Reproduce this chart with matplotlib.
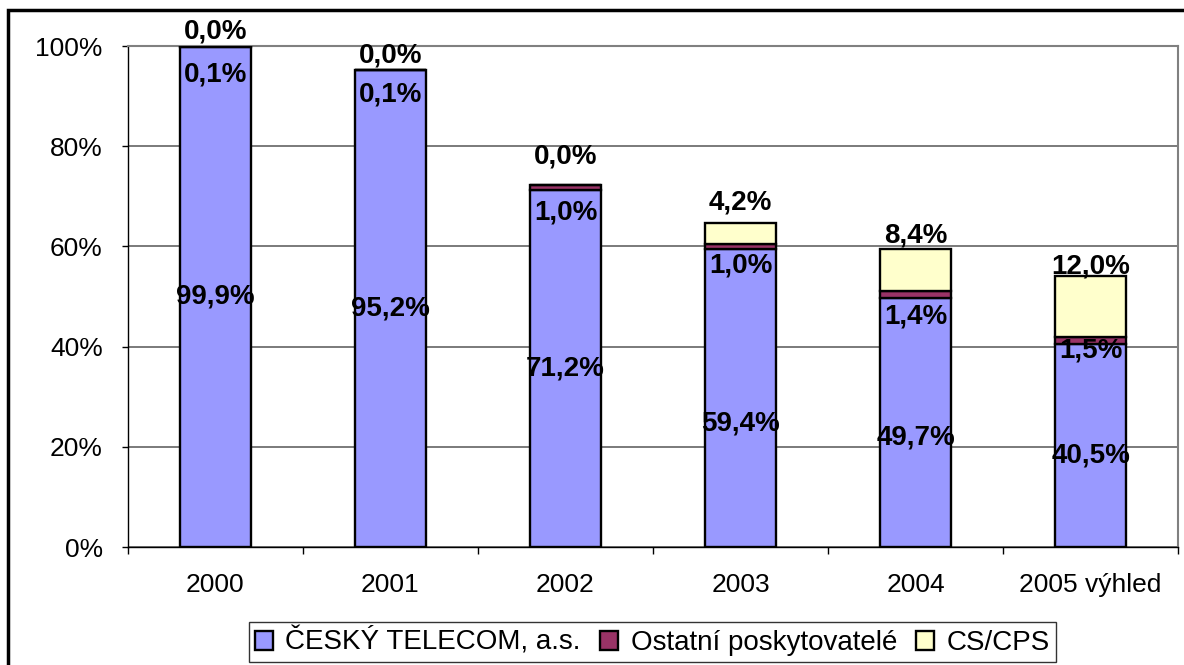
import numpy as np
import matplotlib.pyplot as plt
from matplotlib.patches import Rectangle
from matplotlib.ticker import FixedLocator, PercentFormatter

plt.rcParams['font.family'] = ['Liberation Sans', 'DejaVu Sans']

years = ['2000', '2001', '2002', '2003', '2004', '2005 výhled']
telecom = [99.9, 95.2, 71.2, 59.4, 49.7, 40.5]
ostatni = [0.1, 0.1, 1.0, 1.0, 1.4, 1.5]
cscps = [0.0, 0.0, 0.0, 4.2, 8.4, 12.0]

# label shifts (in % units) from segment centre, as Excel placed them
dy_tel = [0, 0, 0, -5, -3, -2]
dy_ost = [-5.7, -5, -5, -3.8, -4.3, -2.1]
dy_cs = [2.8, 2.9, 5.8, 6.2, 6.8, 7.9]

col_tel = '#9999FF'
col_ost = '#993366'
col_cs = '#FFFFCC'

fig = plt.figure(figsize=(11.84, 6.65), dpi=100)
ax = fig.add_axes([0.108, 0.1774, 0.887, 0.7534])

x = np.arange(len(years))
w = 0.41
tel = np.array(telecom)
ost = np.array(ostatni)
cs = np.array(cscps)

ax.bar(x, tel, w, color=col_tel, edgecolor='black', linewidth=1.7, label='ČESKÝ TELECOM, a.s.', zorder=3)
ax.bar(x, ost, w, bottom=tel, color=col_ost, edgecolor='black', linewidth=1.7, label='Ostatní poskytovatelé', zorder=3)
ax.bar(x, cs, w, bottom=tel + ost, color=col_cs, edgecolor='black', linewidth=1.7, label='CS/CPS', zorder=3)

def fmt(v):
    return ('%.1f%%' % v).replace('.', ',')

lbl = dict(ha='center', va='center', fontsize=20, fontweight='bold', zorder=5, clip_on=False)
for i in range(len(years)):
    ax.text(x[i], tel[i] / 2 + dy_tel[i], fmt(tel[i]), **lbl)
    ax.text(x[i], tel[i] + ost[i] / 2 + dy_ost[i], fmt(ost[i]), **lbl)
    ax.text(x[i], tel[i] + ost[i] + cs[i] / 2 + dy_cs[i], fmt(cs[i]), **lbl)

ax.set_xlim(-0.5, len(years) - 0.5)
ax.set_ylim(0, 100)
ax.set_yticks(np.arange(0, 101, 20))
ax.yaxis.set_major_formatter(PercentFormatter(decimals=0))
ax.yaxis.grid(True, color='#707070', linewidth=1.3, zorder=0)
ax.set_xticks(x)
ax.set_xticklabels(years)
ax.xaxis.set_minor_locator(FixedLocator(np.arange(-0.5, len(years), 1)))
ax.tick_params(axis='x', which='major', length=0, pad=19, labelsize=19)
ax.tick_params(axis='x', which='minor', length=5, direction='out', width=1)
ax.tick_params(axis='y', length=4, direction='out', width=1, labelsize=19, pad=14)

for s in ['top', 'right']:
    ax.spines[s].set_color('#808080')
    ax.spines[s].set_linewidth(1.5)
for s in ['left', 'bottom']:
    ax.spines[s].set_color('black')
    ax.spines[s].set_linewidth(1)

leg = fig.legend(loc='center', bbox_to_anchor=(0.551, 0.0346), ncol=3, fontsize=20,
                 frameon=True, fancybox=False, edgecolor='black', handlelength=0.65,
                 handleheight=0.65, handletextpad=0.45, columnspacing=0.7,
                 borderpad=0.2, borderaxespad=0)
leg.get_frame().set_linewidth(1)

fig.patches.append(Rectangle((0.0068, -0.02), 1.1, 1.005, transform=fig.transFigure,
                             fill=False, edgecolor='black', linewidth=2.5))

fig.savefig('out.png', dpi=100)
